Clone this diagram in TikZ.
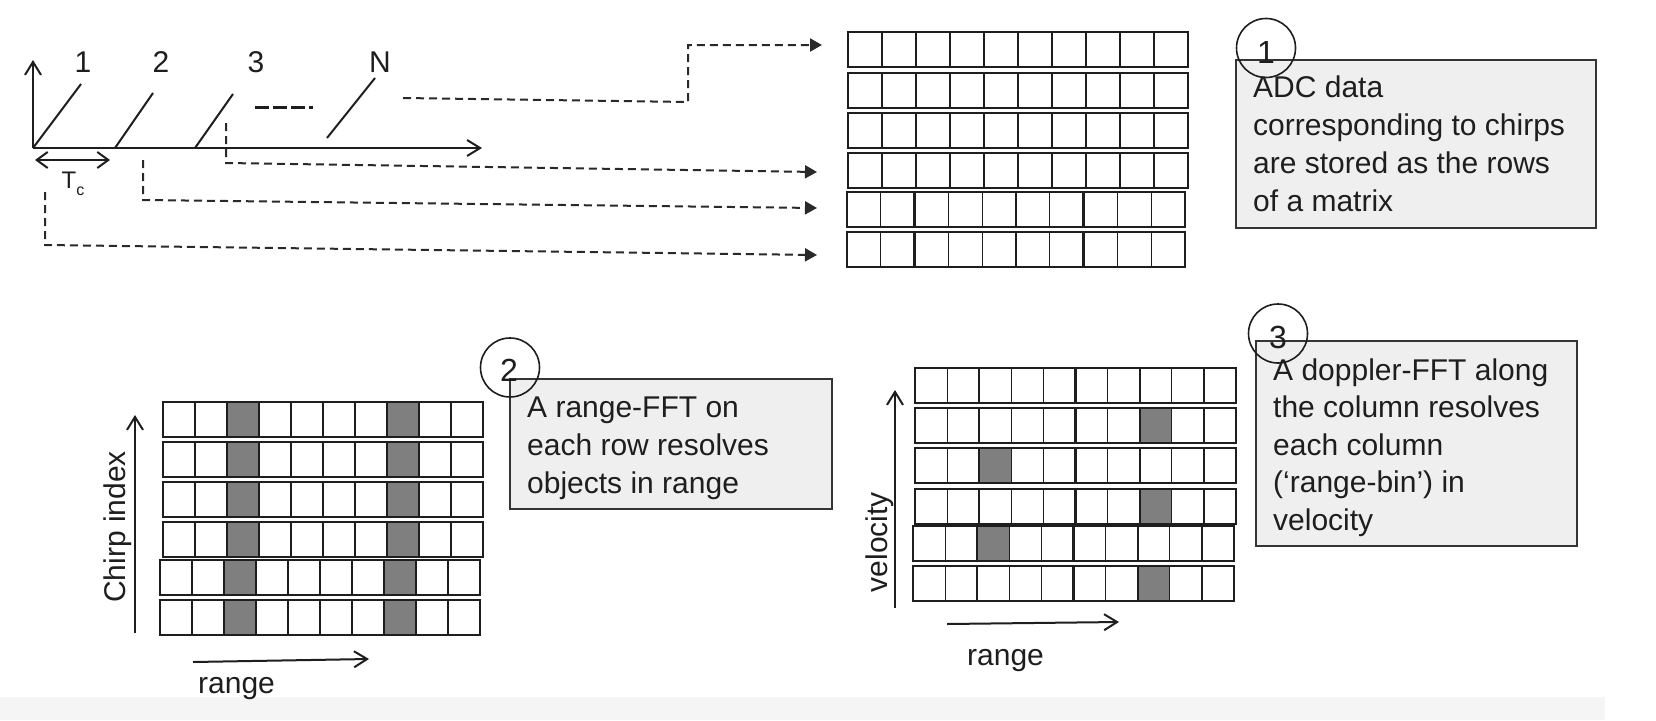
\documentclass[tikz,border=0pt]{standalone}
\usepackage{fontspec}
\setmainfont{Liberation Sans}
\usetikzlibrary{arrows.meta}
\definecolor{boxfill}{HTML}{EFEFEF}
\definecolor{ink}{HTML}{1E1E1E}
\definecolor{cellshade}{HTML}{7F7F7F}
\definecolor{bandgray}{HTML}{F5F5F5}
% one matrix row: x0, y0 (top), cell width, height, shaded cells (-1 = none)
\newcommand{\mrow}[5]{%
  \foreach \k in {#5} {\ifnum\k>-1 \fill[cellshade] ({#1+\k*#3},#2) rectangle ({#1+(\k+1)*#3},{#2+#4});\fi}
  \foreach \k in {1,3,4,6,8,9} {\draw[cellline] ({#1+\k*#3},#2) -- ({#1+\k*#3},{#2+#4});}
  \foreach \a/\b in {0/2,2/5,5/7,7/10} {\draw[groupline] ({#1+\a*#3},#2) rectangle ({#1+\b*#3},{#2+#4});}
}
\begin{document}
\begin{tikzpicture}[x=1pt,y=-1pt,
  every node/.style={inner sep=0pt, text=ink},
  txt/.style={font=\fontsize{30}{38}\selectfont, align=left, anchor=north west},
  lbl/.style={font=\fontsize{30}{36}\selectfont},
  axis/.style={draw=ink, line width=2pt},
  barb/.style={-{Straight Barb[length=13pt,width=16pt]}},
  dashconn/.style={draw=ink!95, line width=2pt, dash pattern=on 8pt off 5pt, -{Triangle[length=12pt,width=13pt]}},
  infobox/.style={draw=ink!90, line width=1.5pt, fill=boxfill},
  numcirc/.style={draw=ink, line width=1.6pt, circle, minimum size=59pt},
  numtxt/.style={font=\fontsize{32}{32}\selectfont, anchor=base},
  cellline/.style={draw=ink, line width=1.2pt},
  groupline/.style={draw=ink, line width=2.4pt},
]
\fill[white] (0,0) rectangle (1656,720);
\useasboundingbox (0,0) rectangle (1656,720);
\fill[bandgray] (0,697) rectangle (1605,720);

% ---------- chirp sequence ----------
\coordinate (org) at (33,148);
\coordinate (ytop) at (33,60);
\coordinate (xend) at (482,148);
\draw[axis, barb] (org) -- (ytop);
\draw[axis, barb] (org) -- (xend);
\coordinate (c1a) at (33,148);  \coordinate (c1b) at (81,84);
\coordinate (c2a) at (115,148); \coordinate (c2b) at (153,93);
\coordinate (c3a) at (195,148); \coordinate (c3b) at (233,94);
\coordinate (cNa) at (327,138); \coordinate (cNb) at (375,78);
\draw[axis] (c1a) -- (c1b);
\draw[axis] (c2a) -- (c2b);
\draw[axis] (c3a) -- (c3b);
\draw[axis] (cNa) -- (cNb);
\node[lbl, anchor=base] (l1) at (83,72) {1};
\node[lbl, anchor=base] (l2) at (161,72) {2};
\node[lbl, anchor=base] (l3) at (256,72) {3};
\node[lbl, anchor=base] (lN) at (380,72) {N};
\coordinate (dots1) at (255,107); \coordinate (dots2) at (313,107);
\draw[draw=ink, line width=3pt, dash pattern=on 14pt off 4pt] (dots1) -- (dots2);
\coordinate (tca) at (35,160); \coordinate (tcb) at (110,160);
\draw[axis, {Straight Barb[length=11pt,width=16pt]}-{Straight Barb[length=11pt,width=16pt]}] (tca) -- (tcb);
\node[anchor=base, font=\fontsize{24}{24}\selectfont] (tc) at (73,188) {T\raisebox{-0.3em}{\fontsize{16}{16}\selectfont c}};

% ---------- dashed connectors ----------
\coordinate (sN) at (403,98); \coordinate (kN1) at (688,102); \coordinate (kN2) at (688,45); \coordinate (tN) at (822,45);
\draw[dashconn] (sN) -- (kN1) -- (kN2) -- (tN);
\coordinate (s3) at (226,123); \coordinate (k3) at (226,163); \coordinate (t3) at (817,172);
\draw[dashconn] (s3) -- (k3) -- (t3);
\coordinate (s2) at (143,160); \coordinate (k2) at (143,200); \coordinate (t2) at (817,208);
\draw[dashconn] (s2) -- (k2) -- (t2);
\coordinate (s1) at (45,192); \coordinate (k1) at (45,245); \coordinate (t1) at (817,255);
\draw[dashconn] (s1) -- (k1) -- (t1);

% ---------- matrix 1 (ADC data) ----------
\mrow{848}{32}{34}{35}{-1}
\mrow{848}{73}{34}{35}{-1}
\mrow{848}{113}{34}{35}{-1}
\mrow{848}{153}{34}{35}{-1}
\mrow{847}{192}{33.8}{35}{-1}
\mrow{847}{232}{33.8}{35}{-1}

% box 1
\draw[infobox] (1236,60) rectangle (1596,228);
\node[txt] (t1box) at (1253,70.4) {\strut ADC data\\\strut corresponding to chirps\\\strut are stored as the rows\\\strut of a matrix};
\node[numcirc] (n1) at (1266,48) {};
\node[numtxt] (d1) at (1266,63) {1};

% ---------- matrix 2 (range FFT) ----------
\mrow{163}{402}{32}{35}{2,7}
\mrow{163}{442}{32}{35}{2,7}
\mrow{163}{482}{32}{35}{2,7}
\mrow{163}{522}{32}{35}{2,7}
\mrow{160}{560}{32}{35}{2,7}
\mrow{160}{600}{32}{35}{2,7}
\coordinate (chb) at (135,633); \coordinate (cht) at (135,415);
\draw[axis, barb] (chb) -- (cht);
\node[lbl, rotate=90] (chirpidx) at (118,527) {Chirp index};
\coordinate (r1a) at (193,662); \coordinate (r1b) at (369,659);
\draw[axis, barb] (r1a) -- (r1b);
\node[lbl, anchor=base west] (range1) at (198,693) {range};

% box 2
\draw[infobox] (510,379) rectangle (832,509);
\node[txt] (t2box) at (527,390.4) {\strut A range-FFT on\\\strut each row resolves\\\strut objects in range};
\node[numcirc] (n2) at (510,367.5) {};
\node[numtxt] (d2) at (509,381) {2};

% ---------- matrix 3 (doppler FFT) ----------
\mrow{915}{368}{32.1}{35}{-1}
\mrow{915}{408}{32.1}{35}{7}
\mrow{915}{448}{32.1}{35}{2}
\mrow{915}{489}{32.1}{35}{7}
\mrow{913}{526}{32.1}{35}{2}
\mrow{913}{566}{32.1}{35}{7}
\coordinate (vb) at (895,608); \coordinate (vt) at (895,390);
\draw[axis, barb] (vb) -- (vt);
\node[lbl, rotate=90] (velo) at (880,542) {velocity};
\coordinate (r2a) at (947,624); \coordinate (r2b) at (1119,622);
\draw[axis, barb] (r2a) -- (r2b);
\node[lbl, anchor=base west] (range2) at (967,665) {range};

% box 3
\draw[infobox] (1256,341) rectangle (1577,546);
\node[txt, font=\fontsize{30}{37.5}\selectfont] (t3box) at (1273,353.75) {\strut A doppler-FFT along\\\strut the column resolves\\\strut each column\\\strut (‘range-bin’) in\\\strut velocity};
\node[numcirc] (n3) at (1278,333.5) {};
\node[numtxt] (d3) at (1278,348) {3};
\end{tikzpicture}
\end{document}
